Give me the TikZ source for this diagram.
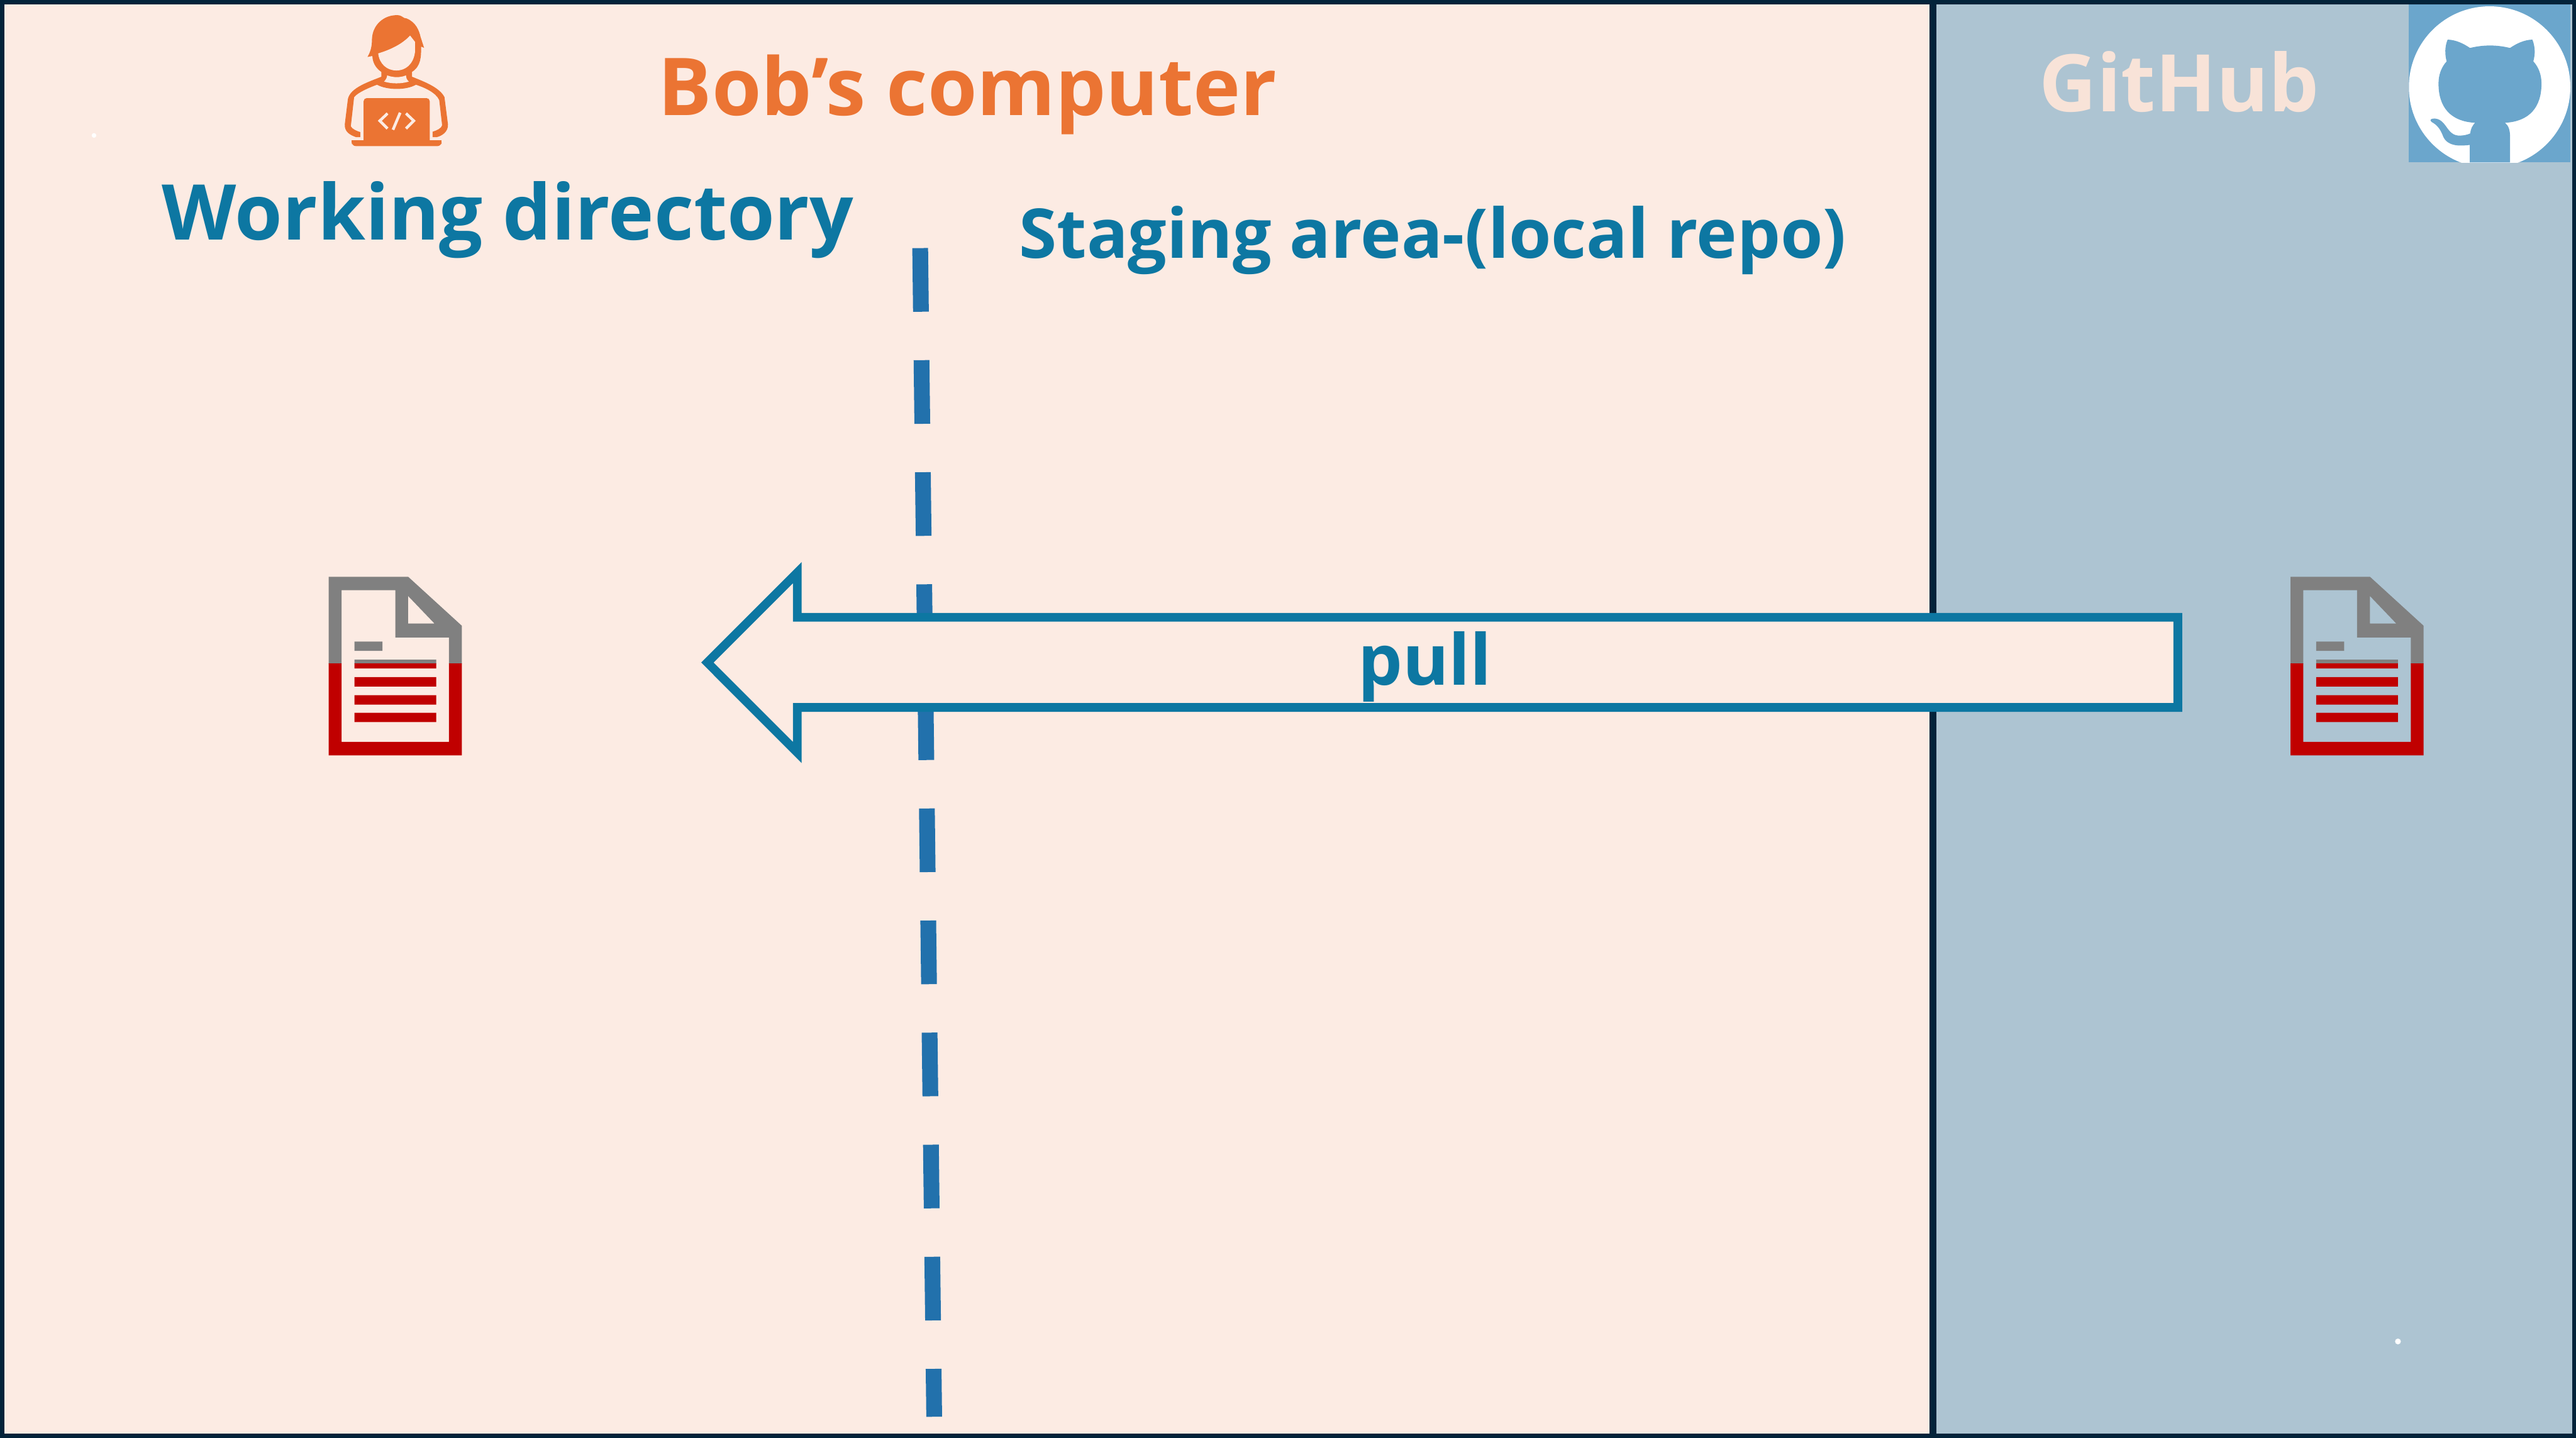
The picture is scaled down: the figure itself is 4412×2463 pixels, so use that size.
\documentclass[tikz,border=0pt]{standalone}
\usepackage{fontspec}
\setmainfont{Open Sans}
\definecolor{peach}{HTML}{FCEBE3}
\definecolor{sky}{HTML}{ADC4D2}
\definecolor{navy}{HTML}{03233A}
\definecolor{teal}{HTML}{0D77A2}
\definecolor{dashblue}{HTML}{2271AC}
\definecolor{orng}{HTML}{EB7433}
\definecolor{octo}{HTML}{6BA6CC}
\definecolor{fred}{HTML}{C00000}
\definecolor{fgray}{HTML}{808080}
\definecolor{ghtext}{HTML}{F8E3D8}
\tikzset{
  lbl/.style={font=\bfseries,inner sep=0pt,anchor=base west},
}
\newcommand{\docicon}[2]{%
\begin{scope}[shift={(#1,#2)}]
\begin{scope}
\clip (-1,-1) rectangle (300,149);
\fill[fgray,even odd rule] (0,0) -- (136,0) -- (228,84) -- (228,306) -- (0,306) -- cycle
 (22,23) -- (114,23) -- (114,104) -- (206,104) -- (206,283) -- (22,283) -- cycle
 (136,33) -- (136,80) -- (181,80) -- cycle;
\fill[fgray] (44,111) rectangle (92,127) (44,142) rectangle (184,157);
\end{scope}
\begin{scope}
\clip (-1,149) rectangle (300,320);
\fill[fred,even odd rule] (0,0) -- (136,0) -- (228,84) -- (228,306) -- (0,306) -- cycle
 (22,23) -- (114,23) -- (114,104) -- (206,104) -- (206,283) -- (22,283) -- cycle;
\fill[fred] (44,142) rectangle (184,157) (44,172) rectangle (184,188) (44,203) rectangle (184,219) (44,233) rectangle (184,249);
\end{scope}
\end{scope}}
\begin{document}
\begin{tikzpicture}[x=0.01cm,y=-0.01cm]
\useasboundingbox (0,0) rectangle (4412,2463);
\fill[peach] (0,0) rectangle (3311,2463);
\fill[sky] (3311,0) rectangle (4412,2463);
\coordinate (dtop) at (1576,425);
\coordinate (dbot) at (1600,2427);
\draw[dashblue,line width=27*0.2845pt,dash pattern=on 31pt off 23.6pt] (dtop) -- (dbot);
\node[lbl,text=orng,font=\bfseries\fontsize{38.9}{40}\selectfont] (bob) at (1127,198) {Bob’s computer};
\node[lbl,text=teal,font=\bfseries\fontsize{37.5}{40}\selectfont] (wd) at (277,411) {Working directory};
\node[lbl,text=teal,font=\bfseries\fontsize{33.4}{36}\selectfont] (sa) at (1745,442) {Staging area-(local repo)};
\node[lbl,text=ghtext,font=\bfseries\fontsize{38.7}{40}\selectfont] (gh) at (3492,191) {GitHub};
% person
\begin{scope}[shift={(500,0)},x=0.00333cm,y=-0.00333cm]
\fill[orng] (540,78) .. controls (570,78) and (570,95) .. (590,95) .. controls (640,115) and (655,160) .. (662,190) -- (680,246) -- (665,240) .. controls (665,290) and (665,340) .. (618,370) -- (618,395) .. controls (680,420) and (760,450) .. (785,500) -- (803,640) .. controls (805,680) and (770,700) .. (745,706) -- (724,706) -- (724,678) .. controls (745,672) and (770,660) .. (773,645) -- (758,515) .. controls (740,475) and (680,450) .. (638,436) .. controls (590,465) and (490,465) .. (438,436) .. controls (400,450) and (340,475) .. (320,500) -- (303,650) .. controls (310,665) and (335,675) .. (352,680) -- (352,706) -- (330,706) .. controls (300,695) and (270,680) .. (272,640) -- (288,510) .. controls (300,450) and (400,420) .. (460,395) -- (460,370) .. controls (430,350) and (415,320) .. (414,288) -- (389,293) .. controls (405,265) and (412,240) .. (412,200) .. controls (415,130) and (470,78) .. (540,78) -- cycle;
\fill[peach] (444,275) .. controls (510,255) and (570,225) .. (608,183) -- (633,215) -- (633,270) .. controls (625,330) and (585,363) .. (538,363) .. controls (490,363) and (450,330) .. (444,275) -- cycle;
\fill[peach] (490,388) .. controls (520,400) and (560,400) .. (587,388) .. controls (587,400) and (592,412) .. (602,420) .. controls (560,432) and (515,432) .. (474,420) .. controls (482,412) and (490,400) .. (490,388) -- cycle;
\fill[orng,rounded corners=1.5pt] (369,740) -- (369,505) -- (709,505) -- (709,740) -- cycle;
\fill[orng,rounded corners=2pt] (308,722) -- (770,722) -- (770,752) -- (308,752) -- cycle;
\fill[orng] (308,722) rectangle (770,735);
\draw[peach,line width=1.35pt] (492,584) -- (452,622) -- (492,662) (587,584) -- (627,622) -- (587,662) (557,580) -- (520,668);
\end{scope}
% octocat
\begin{scope}[shift={(4050,0)},x=0.00333cm,y=-0.00333cm]
\fill[octo] (228,24) rectangle (1059,836);
\begin{scope}
\clip (228,24) rectangle (1059,836);
\fill[white] (643,448) circle [radius=1.382cm];
\end{scope}
\fill[octo] (427,204) .. controls (470,205) and (510,225) .. (542,247) .. controls (610,230) and (680,230) .. (748,247) .. controls (780,225) and (820,205) .. (863,204) .. controls (878,240) and (878,280) .. (868,316) .. controls (895,345) and (910,385) .. (910,430) .. controls (910,550) and (850,625) .. (722,632) .. controls (740,645) and (748,670) .. (748,700) -- (748,836) -- (541,836) -- (541,746) .. controls (490,752) and (430,755) .. (405,705) .. controls (390,665) and (375,645) .. (345,628) .. controls (332,618) and (340,610) .. (360,610) .. controls (425,615) and (420,700) .. (490,698) .. controls (510,698) and (530,693) .. (543,687) .. controls (545,665) and (555,645) .. (568,632) .. controls (440,625) and (380,550) .. (380,430) .. controls (380,385) and (395,345) .. (422,316) .. controls (412,280) and (412,240) .. (427,204) -- cycle;
\end{scope}
% docs
\docicon{563}{988}
\docicon{3923}{988}
% divider
\draw[navy,line width=12*0.2845pt] (3311,0) -- (3311,2463);
% arrow
\path[fill=peach,draw=teal,line width=15*0.2845pt,miter limit=10] (3730,1057.5) -- (1365.5,1057.5) -- (1365.5,981) -- (1211.6,1135) -- (1365.5,1289) -- (1365.5,1212) -- (3730,1212) -- cycle;
\node[lbl,text=teal,font=\bfseries\fontsize{34.3}{36}\selectfont] (pull) at (2325,1174) {pull};
% frame
\draw[navy,line width=14*0.2845pt] (0,0) rectangle (4412,2463);
\fill[white] (4107,2298) circle [radius=0.05cm];
\fill[white] (161,232) circle [radius=0.04cm];
\end{tikzpicture}
\end{document}
